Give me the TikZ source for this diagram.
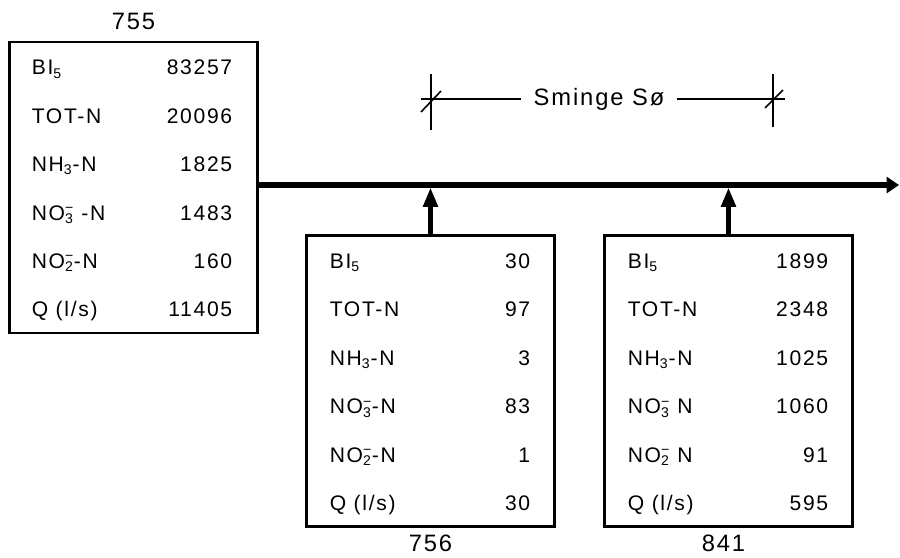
\documentclass[tikz,border=0pt]{standalone}
\usepackage{fontspec}
\setmainfont{Liberation Sans}[LetterSpace=8]
\usetikzlibrary{positioning, arrows.meta}

\newcommand{\ionsub}[1]{\rlap{\textsuperscript{−}}\textsubscript{#1}}

\begin{document}
\begin{tikzpicture}[x=0.02cm, y=-0.02cm,
    station/.style={draw, line width=1.2pt, minimum width=4.96cm,
      minimum height=5.82cm, inner sep=0pt},
    stationid/.style={anchor=base, inner sep=0pt, font=\fontsize{13.5}{15}\selectfont},
    item/.style={anchor=base west, inner sep=0pt, font=\fontsize{12}{14}\selectfont},
    val/.style={anchor=base east, inner sep=0pt, font=\fontsize{12}{14}\selectfont},
    flow/.style={line width=3pt, -{Triangle[length=11pt, width=8pt]}},
    dim/.style={line width=0.9pt},
  ]
    \useasboundingbox (0,0) rectangle (900,558);

    % stations
    \node[station] (b755) at (133.5,187.5) {};
    \node[station] (b756) at (430.5,381) {};
    \node[station] (b841) at (728.5,381) {};
    \node[stationid] (id755) at ([yshift=0.22cm]b755.north) {755};
    \node[stationid] (id756) at ([yshift=-0.47cm]b756.south) {756};
    \node[stationid] (id841) at ([xshift=-0.1cm, yshift=-0.47cm]b841.south) {841};

    \foreach \lab/\val [count=\i from 0] in {BI\textsubscript{5}/83257, TOT-N/20096,
        NH\textsubscript{3}-N/1825, NO\ionsub{3} -N/1483, NO\ionsub{2}-N/160, {Q (l/s)}/11405}{
      \node[item] (b755-l\i) at ([xshift=0.46cm, yshift={-0.68cm-\i*0.968cm}]b755.north west) {\lab};
      \node[val] (b755-v\i) at ([xshift=-0.52cm, yshift={-0.68cm-\i*0.968cm}]b755.north east) {\val};
    }
    \foreach \lab/\val [count=\i from 0] in {BI\textsubscript{5}/30, TOT-N/97,
        NH\textsubscript{3}-N/3, NO\ionsub{3}-N/83, NO\ionsub{2}-N/1, {Q (l/s)}/30}{
      \node[item] (b756-l\i) at ([xshift=0.48cm, yshift={-0.68cm-\i*0.97cm}]b756.north west) {\lab};
      \node[val] (b756-v\i) at ([xshift=-0.5cm, yshift={-0.68cm-\i*0.97cm}]b756.north east) {\val};
    }
    \foreach \lab/\val [count=\i from 0] in {BI\textsubscript{5}/1899, TOT-N/2348,
        NH\textsubscript{3}-N/1025, NO\ionsub{3} N/1060, NO\ionsub{2} N/91, {Q (l/s)}/595}{
      \node[item] (b841-l\i) at ([xshift=0.48cm, yshift={-0.68cm-\i*0.97cm}]b841.north west) {\lab};
      \node[val] (b841-v\i) at ([xshift=-0.5cm, yshift={-0.68cm-\i*0.97cm}]b841.north east) {\val};
    }

    % stream
    \coordinate (outlet) at (899,185);
    \draw[flow, -{Triangle[length=7pt, width=9pt]}] (b755.east |- outlet) -- (outlet);
    \draw[flow, shorten >=1.4pt] (b756.north) -- (b756.north |- outlet);
    \draw[flow, shorten >=1.4pt] (b841.north) -- (b841.north |- outlet);

    % lake reach
    \node[inner xsep=7pt, font=\fontsize{13.5}{16}\selectfont] (lake) at (599,99) {Sminge Sø};
    \coordinate (lake-a) at (431,99);
    \coordinate (lake-b) at (773,99);
    \draw[dim] ([xshift=-0.2cm]lake-a) -- (lake.west);
    \draw[dim] (lake.east) -- ([xshift=0.24cm]lake-b);
    \draw[dim] ([yshift=0.5cm]lake-a) -- ([yshift=-0.62cm]lake-a);
    \draw[dim] ([yshift=0.5cm]lake-b) -- ([yshift=-0.56cm]lake-b);
    \draw[dim] ([shift={(-0.2cm,-0.26cm)}]lake-a) -- ([shift={(0.2cm,0.16cm)}]lake-a);
    \draw[dim] ([shift={(-0.16cm,-0.18cm)}]lake-b) -- ([shift={(0.2cm,0.18cm)}]lake-b);
  \end{tikzpicture}
\end{document}
